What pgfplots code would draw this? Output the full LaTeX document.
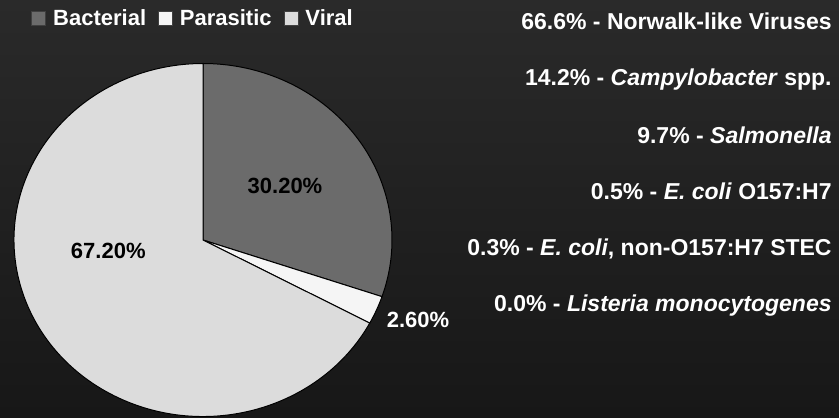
\documentclass[border=0pt]{standalone}
\usepackage{pgfplots}
\pgfplotsset{compat=1.18}
\usepackage{fontspec}
\setmainfont{Liberation Sans}

\definecolor{bact}{HTML}{6B6B6B}
\definecolor{para}{HTML}{F5F5F5}
\definecolor{viral}{HTML}{DCDCDC}
\definecolor{bgtop}{HTML}{2A2A2A}
\definecolor{bgbot}{HTML}{171717}
\tikzset{pie/.style={draw=black, line width=0.5pt}}

% pie geometry (1 px = 0.5pt): x radius 94.5pt, y radius 88.25pt
\begin{document}
\begin{tikzpicture}
\begin{axis}[
  width=419.5pt, height=208.5pt, scale only axis,
  xmin=0, xmax=839, ymin=0, ymax=417, y dir=reverse,
  hide axis, clip=false,
  legend columns=3,
  legend image code/.code={\draw[#1, draw=black!75, line width=0.4pt] (0pt,0.35pt) rectangle (7pt,7pt);},
  legend style={at={(axis cs:31,9.5)}, anchor=north west, draw=none, fill=none,
    inner sep=0pt, text=white, font=\fontsize{11}{13}\selectfont\bfseries,
    nodes={inner sep=0pt, text depth=0pt}, cells={anchor=base},
    /tikz/every odd column/.append style={column sep=3.5pt},
    /tikz/every even column/.append style={column sep=6pt}},
]
\shade[top color=bgtop, bottom color=bgbot] (axis cs:0,0) rectangle (axis cs:839,417);

% slices: Bacterial 30.2, Parasitic 2.6, Viral 67.2 (clockwise from top)
\filldraw[fill=bact, pie] (axis cs:203,240) -- ++(90:94.5pt and 88.25pt)
  arc[start angle=90, end angle=90-3.6*(30.2), x radius=94.5pt, y radius=88.25pt] -- cycle;
\filldraw[fill=para, pie] (axis cs:203,240) -- ++({90-3.6*(30.2)}:94.5pt and 88.25pt)
  arc[start angle=90-3.6*(30.2), end angle=90-3.6*(30.2+2.6), x radius=94.5pt, y radius=88.25pt] -- cycle;
\filldraw[fill=viral, pie] (axis cs:203,240) -- ++({90-3.6*(30.2+2.6)}:94.5pt and 88.25pt)
  arc[start angle=90-3.6*(30.2+2.6), end angle=90-3.6*(30.2+2.6+67.2), x radius=94.5pt, y radius=88.25pt] -- cycle;

\addlegendimage{fill=bact}\addlegendentry{Bacterial}
\addlegendimage{fill=para}\addlegendentry{Parasitic}
\addlegendimage{fill=viral}\addlegendentry{Viral}

\begin{scope}[every node/.style={font=\fontsize{11}{13}\selectfont\bfseries, inner sep=0pt}]
\node[anchor=base, text=black] at (axis cs:285,193.3) {30.20\%};
\node[anchor=base, text=black] at (axis cs:108.3,258.3) {67.20\%};
\node[anchor=base, text=white] at (axis cs:418,327) {2.60\%};
\end{scope}

\begin{scope}[every node/.style={font=\fontsize{11.5}{13}\selectfont\bfseries, inner sep=0pt, text=white, anchor=base east}]
\node at (axis cs:832,29.5) {66.6\% - Norwalk-like Viruses};
\node at (axis cs:832,86) {14.2\% - \textit{Campylobacter} spp.};
\node at (axis cs:832,143) {9.7\% - \textit{Salmonella}};
\node at (axis cs:832,199) {0.5\% - \textit{E. coli} O157:H7};
\node at (axis cs:832,255) {0.3\% - \textit{E. coli}, non-O157:H7 STEC};
\node at (axis cs:832,311) {0.0\% - \textit{Listeria monocytogenes}};
\end{scope}
\end{axis}
\pgfresetboundingbox
\path[use as bounding box] (current axis.south west) rectangle (current axis.north east);
\end{tikzpicture}
\end{document}
